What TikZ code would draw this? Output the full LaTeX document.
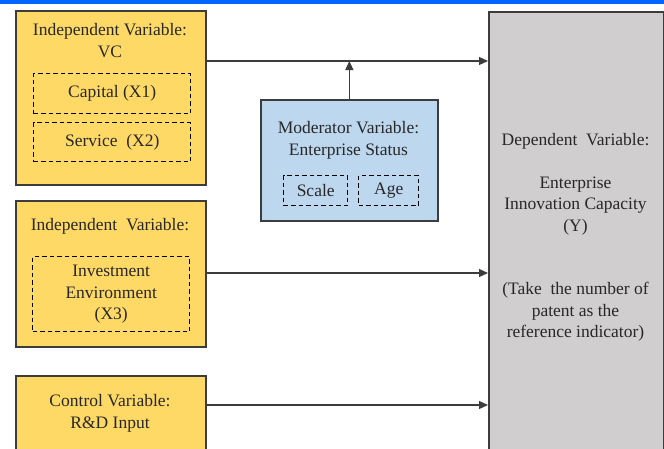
\documentclass[tikz,border=0pt]{standalone}
\usepackage{fontspec}
\setmainfont{Liberation Serif}
\usetikzlibrary{arrows.meta,positioning}
\definecolor{varyellow}{RGB}{255,217,102}
\definecolor{modblue}{RGB}{189,215,238}
\definecolor{depgray}{RGB}{208,206,206}
\definecolor{topblue}{RGB}{0,102,255}
\definecolor{edgegray}{RGB}{60,60,60}
\definecolor{txtgray}{RGB}{40,40,40}
\tikzset{
  varbox/.style={draw=edgegray, line width=1.7pt, fill=varyellow, anchor=north west, inner sep=0pt},
  modbox/.style={draw=edgegray, line width=1.7pt, fill=modblue, anchor=north west, inner sep=0pt},
  depbox/.style={draw=edgegray, line width=1.7pt, fill=depgray, anchor=north west, inner sep=0pt},
  subbox/.style={draw=black, line width=1.4pt, dash pattern=on 4.5pt off 3pt,
                 anchor=north west, inner sep=0pt, text=txtgray, align=center,
                 font=\fontsize{17.5}{21.5}\selectfont},
  lbl/.style={text=txtgray, align=center, font=\fontsize{17.5}{21.5}\selectfont, inner sep=0pt},
  linkarr/.style={-{Triangle[length=9pt,width=8pt]}, edgegray, line width=1.1pt},
}
\begin{document}
\begin{tikzpicture}[x=1pt, y=-1pt]
  \clip (0,0) rectangle (664,448);
  \fill[white] (0,0) rectangle (664,448);
  \fill[topblue] (0,0) rectangle (664,3.5);
  % left column
  \node[varbox, minimum width=190pt, minimum height=174pt] (vc) at (15,10) {};
  \node[lbl, anchor=north] (vct) at (110,23.5) {Independent Variable:\\VC};
  \node[subbox, minimum width=157pt, minimum height=40pt] (cap) at (33,73) {Capital (X1)};
  \node[subbox, minimum width=157pt, minimum height=39pt] (ser) at (33,122) {Service\ \ (X2)};
  \node[varbox, minimum width=190pt, minimum height=146pt] (ie) at (15,200) {};
  \node[lbl, anchor=north] (iet) at (110,218.5) {Independent\ \ Variable:};
  \node[subbox, minimum width=157pt, minimum height=75pt] (inv) at (32,256) {Investment\\Environment\\(X3)};
  \node[varbox, minimum width=190pt, minimum height=90pt] (rd) at (15,375) {};
  \node[lbl, anchor=north] (rdt) at (110,394.5) {Control Variable:\\R\&D Input};
  % moderator
  \node[modbox, minimum width=177pt, minimum height=121pt] (mod) at (260,99) {};
  \node[lbl, anchor=north] (modt) at (348.5,121.5) {Moderator Variable:\\Enterprise Status};
  \node[subbox, minimum width=64pt, minimum height=30pt] (scl) at (283,175) {Scale};
  \node[subbox, minimum width=60pt, minimum height=30pt] (age) at (358,175) {Age};
  % dependent
  \node[depbox, minimum width=175pt, minimum height=460pt] (dep) at (488,11) {};
  \node[lbl, anchor=north] (dept) at (575.5,133.5) {Dependent\ \ Variable:};
  \node[lbl, anchor=north] (depy) at (575.5,176.5) {Enterprise\\Innovation Capacity\\(Y)};
  \node[lbl, anchor=north] (depn) at (575.5,282) {(Take\ \ the number of\\patent as the\\reference indicator)};
  % links
  \coordinate (a1) at (207,61);
  \coordinate (a2) at (207,273);
  \coordinate (a3) at (207,405);
  \draw[linkarr] (a1) -- (dep.west |- a1);
  \draw[linkarr] (a2) -- (dep.west |- a2);
  \draw[linkarr] (a3) -- (dep.west |- a3);
  \draw[linkarr] (mod.north) -- (mod.north |- a1);
\end{tikzpicture}
\end{document}
